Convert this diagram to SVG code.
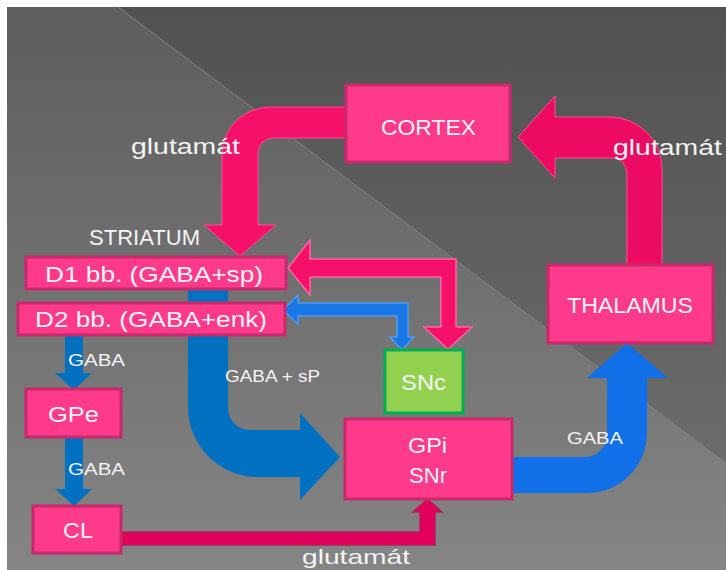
<svg xmlns="http://www.w3.org/2000/svg" width="726" height="570" viewBox="0 0 726 570">
  <defs>
    <linearGradient id="bgLight" gradientUnits="userSpaceOnUse" x1="0" y1="7" x2="0" y2="570">
      <stop offset="0" stop-color="#5d5d5d"/>
      <stop offset="1" stop-color="#858585"/>
    </linearGradient>
    <linearGradient id="bgDark" gradientUnits="userSpaceOnUse" x1="0" y1="7" x2="0" y2="570">
      <stop offset="0" stop-color="#515151"/>
      <stop offset="1" stop-color="#727272"/>
    </linearGradient>
    <style>
      .box { fill: #ff3a8a; stroke: #c72a6b; stroke-width: 3; }
      .green { fill: #92d050; stroke: #00b050; stroke-width: 3; }
      .lbl { font-family: "Liberation Sans", Arial, sans-serif; fill: #f4f4f4; text-anchor: middle; }
      .big { font-size: 22px; }
      .small { font-size: 17px; }
      .pinkBig { fill: #f5116a; stroke: #ff4d92; stroke-width: 1; }
      .pinkThin { fill: #f5116a; stroke: #ff66a3; stroke-width: 1.5; }
      .pinkDark { fill: #e2005b; stroke: #b51d5c; stroke-width: 1.5; }
      .blueDeep { fill: #0070c0; }
      .blueBright { fill: #1170e8; }
      .blueThin { fill: #1a78e6; stroke: #4f9df0; stroke-width: 1.5; }
    </style>
  </defs>

  <!-- slide background -->
  <rect x="0" y="0" width="726" height="570" fill="#ffffff"/>
  <polygon points="7,7 118,7 726,463 726,570 7,570" fill="url(#bgLight)"/>
  <polygon points="118,7 726,7 726,463" fill="url(#bgDark)"/>
  <line x1="118" y1="7" x2="726" y2="463" stroke="#7c7c7c" stroke-width="1"/>

  <!-- connectors -->
  <g id="connectors">
    <!-- cortex to striatum (glutamate) -->
    <path class="pinkBig" d="M346,107 L270,107 A48,48 0 0 0 222,155 L222,225 L204,225 L240,256 L276,225 L258,225 L258,153 A15,15 0 0 1 273,138 L346,138 Z"/>
    <!-- thalamus to cortex (glutamate) -->
    <path class="pinkBig" style="fill:#ec0a63" d="M627,265 L627,173 A15,15 0 0 0 612,158 L555,158 L555,178 L518,137 L555,96 L555,117 L610,117 A52,52 0 0 1 662,169 L662,265 Z"/>
    <!-- D1 to GPi/SNr -->
    <path class="blueDeep" d="M188,289 L188,407 A70,70 0 0 0 258,477 L300,477 L300,500 L340,457 L300,413 L300,430 L250,430 A22,22 0 0 1 228,408 L228,289 Z"/>
    <!-- GPi/SNr to thalamus -->
    <path class="blueBright" d="M512,457 L585,457 A22,22 0 0 0 607,435 L607,378 L587,378 L627,343 L668,378 L647,378 L647,433 A60,60 0 0 1 587,493 L512,493 Z"/>
    <!-- SNc and D1 -->
    <path class="pinkThin" d="M288,268 L310,240 L310,259 L456,259 L456,327 L472,327 L448,349 L424,327 L441,327 L441,277 L310,277 L310,295 Z"/>
    <!-- SNc and D2 -->
    <path class="blueThin" d="M283,310 L298,295 L298,303 L408,303 L408,337 L414,337 L402,350 L390,337 L397,337 L397,316 L298,316 L298,324 Z"/>
    <!-- D2 to GPe -->
    <path class="blueDeep" d="M65,335 L83,335 L83,373 L92,373 L74,390 L55,373 L65,373 Z"/>
    <!-- GPe to CL -->
    <path class="blueDeep" d="M65,437 L83,437 L83,489 L92,489 L74,506 L55,489 L65,489 Z"/>
    <!-- CL to GPi/SNr -->
    <path class="pinkDark" d="M121,532 L420,532 L420,512 L413,512 L427.5,499 L442,512 L435,512 L435,545 L121,545 Z"/>
  </g>

  <!-- nodes -->
  <g id="cortex">
    <rect class="box" x="346" y="85" width="164" height="77"/>
    <text class="lbl big" x="428.5" y="135" textLength="95" lengthAdjust="spacingAndGlyphs">CORTEX</text>
  </g>
  <g id="thalamus">
    <rect class="box" x="548" y="265" width="165" height="78"/>
    <text class="lbl big" x="630" y="313" textLength="126" lengthAdjust="spacingAndGlyphs">THALAMUS</text>
  </g>
  <g id="d1">
    <rect class="box" x="26" y="257" width="260" height="32"/>
    <text class="lbl big" x="154" y="282" textLength="218" lengthAdjust="spacingAndGlyphs">D1 bb. (GABA+sp)</text>
  </g>
  <g id="d2">
    <rect class="box" x="18" y="303" width="267" height="32"/>
    <text class="lbl big" x="151" y="327" textLength="232" lengthAdjust="spacingAndGlyphs">D2 bb. (GABA+enk)</text>
  </g>
  <g id="snc">
    <rect class="green" x="385" y="350" width="78" height="63"/>
    <text class="lbl big" x="423.5" y="390" textLength="45" lengthAdjust="spacingAndGlyphs">SNc</text>
  </g>
  <g id="gpi-snr">
    <rect class="box" x="345" y="419" width="167" height="80"/>
    <text class="lbl big" x="427.5" y="453" textLength="39" lengthAdjust="spacingAndGlyphs">GPi</text>
    <text class="lbl big" x="428" y="483" textLength="38" lengthAdjust="spacingAndGlyphs">SNr</text>
  </g>
  <g id="gpe">
    <rect class="box" x="26" y="389" width="95" height="48"/>
    <text class="lbl big" x="73.5" y="422" textLength="51" lengthAdjust="spacingAndGlyphs">GPe</text>
  </g>
  <g id="cl">
    <rect class="box" x="33" y="506" width="88" height="47"/>
    <text class="lbl big" x="78" y="538" textLength="30" lengthAdjust="spacingAndGlyphs">CL</text>
  </g>

  <!-- labels -->
  <g id="labels">
    <text class="lbl big" x="144.5" y="245" textLength="111" lengthAdjust="spacingAndGlyphs">STRIATUM</text>
    <text class="lbl big" x="185.5" y="154" textLength="109" lengthAdjust="spacingAndGlyphs">glutamát</text>
    <text class="lbl big" x="667.5" y="155" textLength="109" lengthAdjust="spacingAndGlyphs">glutamát</text>
    <text class="lbl" style="font-size:21px" x="356" y="564" textLength="108" lengthAdjust="spacingAndGlyphs">glutamát</text>
    <text class="lbl small" x="96.5" y="366" textLength="57" lengthAdjust="spacingAndGlyphs">GABA</text>
    <text class="lbl small" x="96.5" y="475" textLength="57" lengthAdjust="spacingAndGlyphs">GABA</text>
    <text class="lbl small" x="272.5" y="382" textLength="95" lengthAdjust="spacingAndGlyphs">GABA + sP</text>
    <text class="lbl small" x="595" y="444" textLength="56" lengthAdjust="spacingAndGlyphs">GABA</text>
  </g>
</svg>
